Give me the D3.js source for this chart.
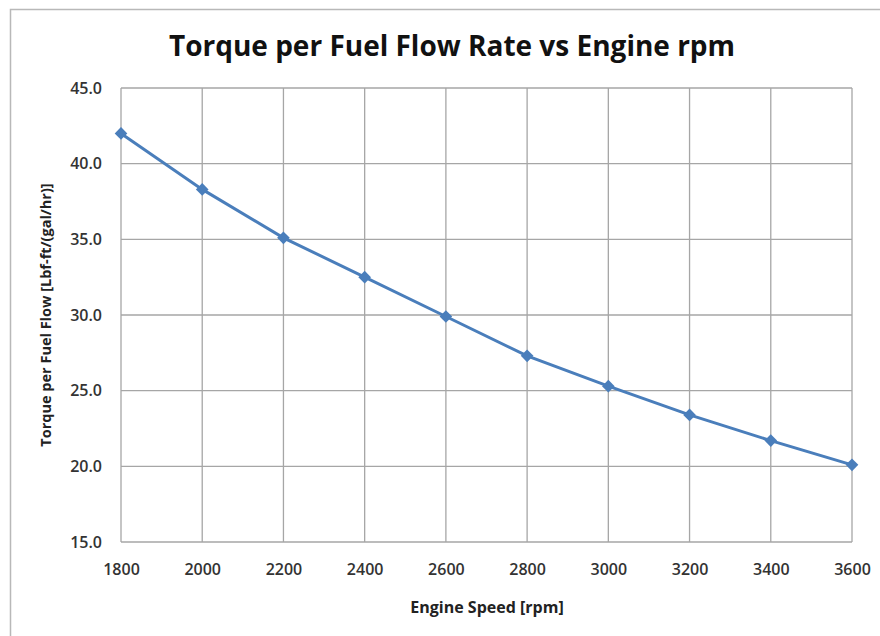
<!DOCTYPE html>
<html>
<head>
<meta charset="utf-8">
<script src="https://cdn.jsdelivr.net/npm/d3@7"></script>
<style>
  body { margin: 0; background: #fff; }
  text { font-family: "Open Sans", "DejaVu Sans", sans-serif; }
</style>
</head>
<body>
<div id="wrapper"></div>
<script>
const rpm = [1800, 2000, 2200, 2400, 2600, 2800, 3000, 3200, 3400, 3600];
const torquePerFlow = [42.0, 38.3, 35.1, 32.5, 29.9, 27.3, 25.3, 23.4, 21.7, 20.1];
const yTicks = [15, 20, 25, 30, 35, 40, 45];
const xTicks = [1800, 2000, 2200, 2400, 2600, 2800, 3000, 3200, 3400, 3600];

function drawChart() {
  const dimensions = {
    width: 880,
    height: 636,
    left: 121,
    right: 852,
    top: 88,
    bottom: 542,
  };

  const svg = d3
    .select("#wrapper")
    .append("svg")
    .attr("width", dimensions.width)
    .attr("height", dimensions.height);

  // outer chart border
  svg
    .append("rect")
    .attr("x", 10.5)
    .attr("y", 9.5)
    .attr("width", 900)
    .attr("height", 700)
    .attr("fill", "#fff")
    .attr("stroke", "#b8b8b8")
    .attr("stroke-width", 1.5);

  const x = d3
    .scaleLinear()
    .domain([1800, 3600])
    .range([dimensions.left, dimensions.right]);

  const y = d3
    .scaleLinear()
    .domain([15, 45])
    .range([dimensions.bottom, dimensions.top]);

  // grid
  const grid = svg.append("g").attr("stroke", "#a6a6a6").attr("stroke-width", 1.3);
  yTicks.forEach((t) => {
    grid
      .append("line")
      .attr("x1", dimensions.left)
      .attr("x2", dimensions.right)
      .attr("y1", y(t))
      .attr("y2", y(t));
  });
  xTicks.forEach((t) => {
    grid
      .append("line")
      .attr("x1", x(t))
      .attr("x2", x(t))
      .attr("y1", dimensions.top)
      .attr("y2", dimensions.bottom);
  });

  // axes (labels only)
  const yAxis = svg
    .append("g")
    .attr("transform", `translate(${dimensions.left},0)`)
    .call(
      d3.axisLeft(y).tickValues(yTicks).tickFormat(d3.format(".1f")).tickSize(0).tickPadding(19)
    );
  const xAxis = svg
    .append("g")
    .attr("transform", `translate(0,${dimensions.bottom})`)
    .call(d3.axisBottom(x).tickValues(xTicks).tickFormat(d3.format("d")).tickSize(0).tickPadding(22));

  [yAxis, xAxis].forEach((ax) => {
    ax.select(".domain").remove();
    ax.selectAll("text")
      .attr("font-family", "Open Sans")
      .attr("font-size", 16)
      .attr("font-weight", 600)
      .attr("fill", "#333");
  });

  // line
  const line = d3
    .line()
    .x((d, i) => x(rpm[i]))
    .y((d) => y(d));

  svg
    .append("path")
    .datum(torquePerFlow)
    .attr("d", line)
    .attr("fill", "none")
    .attr("stroke", "#4a7ebb")
    .attr("stroke-width", 3);

  svg
    .append("g")
    .selectAll("path")
    .data(torquePerFlow)
    .join("path")
    .attr("d", d3.symbol(d3.symbolSquare, 80))
    .attr("transform", (d, i) => `translate(${x(rpm[i])},${y(d)}) rotate(45)`)
    .attr("fill", "#4a7ebb");

  // titles
  svg
    .append("text")
    .attr("x", 452)
    .attr("y", 56)
    .attr("text-anchor", "middle")
    .attr("font-size", 28)
    .attr("font-weight", 700)
    .attr("fill", "#111")
    .text("Torque per Fuel Flow Rate vs Engine rpm");

  svg
    .append("text")
    .attr("x", 487)
    .attr("y", 613)
    .attr("text-anchor", "middle")
    .attr("font-size", 16)
    .attr("font-weight", 700)
    .attr("fill", "#222")
    .text("Engine Speed [rpm]");

  svg
    .append("text")
    .attr("transform", `translate(51,315) rotate(-90)`)
    .attr("text-anchor", "middle")
    .attr("font-size", 14.5)
    .attr("font-weight", 700)
    .attr("fill", "#222")
    .text("Torque per Fuel Flow [Lbf-ft/(gal/hr)]");
}

drawChart();
</script>
</body>
</html>
